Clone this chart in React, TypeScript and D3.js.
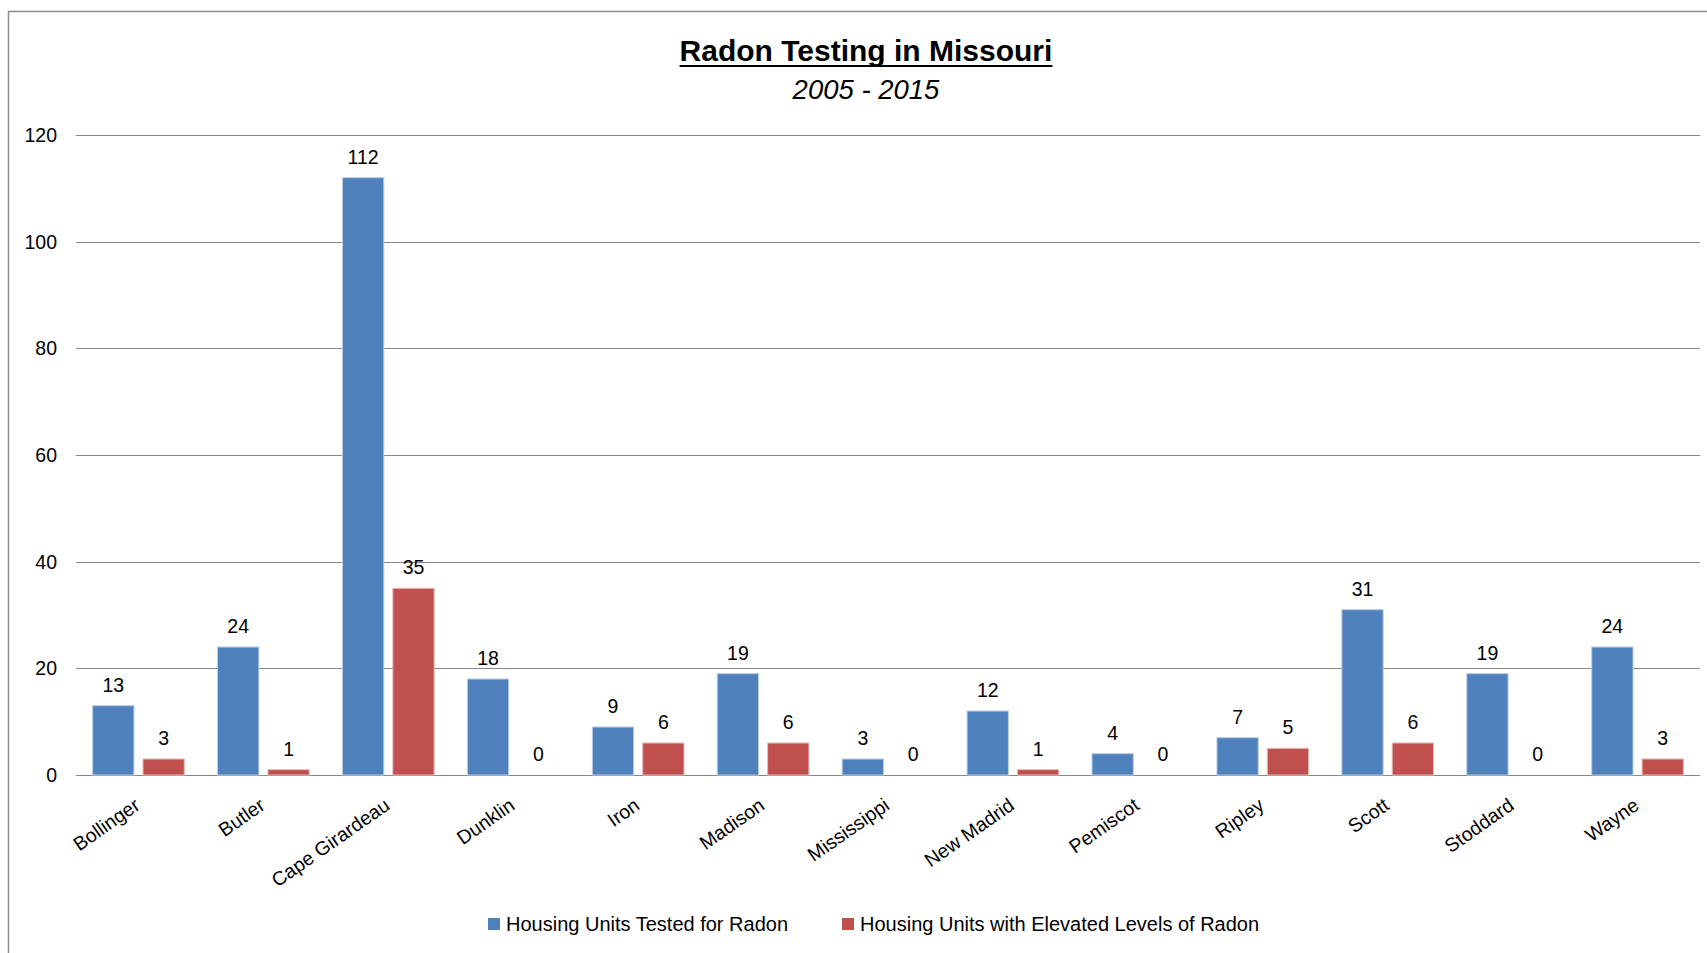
import React, { useEffect, useRef } from 'react';
import * as d3 from 'd3';

const counties = [
  'Bollinger',
  'Butler',
  'Cape Girardeau',
  'Dunklin',
  'Iron',
  'Madison',
  'Mississippi',
  'New Madrid',
  'Pemiscot',
  'Ripley',
  'Scott',
  'Stoddard',
  'Wayne',
];
const tested = [13, 24, 112, 18, 9, 19, 3, 12, 4, 7, 31, 19, 24];
const elevated = [3, 1, 35, 0, 6, 6, 0, 1, 0, 5, 6, 0, 3];
const seriesNames = ['Housing Units Tested for Radon', 'Housing Units with Elevated Levels of Radon'];
const seriesColors = ['#4F81BD', '#C0504D'];
const yTicks = [0, 20, 40, 60, 80, 100, 120];

const FONT = "'Liberation Sans', Arial, sans-serif";

const App: React.FC = () => {
  const svgRef = useRef<SVGSVGElement>(null);

  useEffect(() => {
    if (!svgRef.current) return;
    const svg = d3.select(svgRef.current);
    svg.selectAll('*').remove();

    const width = 1707;
    const height = 953;
    const margin = { top: 135, right: 7, bottom: 178, left: 76 };

    // frame (top + left edges only are visible)
    svg
      .append('path')
      .attr('d', `M8.5,${height} L8.5,11.5 L${width},11.5`)
      .attr('fill', 'none')
      .attr('stroke', '#8c8c8c')
      .attr('stroke-width', 1.5);

    const x0 = d3
      .scaleBand<string>()
      .domain(counties)
      .range([margin.left, width - margin.right]);

    const x1 = d3
      .scaleBand<number>()
      .domain([0, 1])
      .range([0, x0.bandwidth()])
      .paddingInner(0.18)
      .paddingOuter(0.33);

    const y = d3
      .scaleLinear()
      .domain([0, 120])
      .range([height - margin.bottom, margin.top]);

    // gridlines
    svg
      .append('g')
      .selectAll('line')
      .data(yTicks)
      .enter()
      .append('line')
      .attr('x1', margin.left)
      .attr('x2', width - margin.right)
      .attr('y1', (d) => Math.round(y(d)) + 0.5)
      .attr('y2', (d) => Math.round(y(d)) + 0.5)
      .attr('stroke', '#878787')
      .attr('stroke-width', 1.2);

    svg
      .append('g')
      .selectAll('text')
      .data(yTicks)
      .enter()
      .append('text')
      .attr('x', 57)
      .attr('y', (d) => y(d))
      .attr('dy', '0.36em')
      .attr('text-anchor', 'end')
      .attr('font-family', FONT)
      .attr('font-size', 19.5)
      .attr('fill', '#000')
      .text((d) => d);

    const rows = counties.map((c, i) => ({ county: c, values: [tested[i], elevated[i]] }));

    const groups = svg
      .append('g')
      .selectAll('g')
      .data(rows)
      .enter()
      .append('g')
      .attr('transform', (d) => `translate(${x0(d.county)},0)`);

    groups
      .selectAll('rect')
      .data((d) => d.values.map((v, s) => ({ v, s })))
      .enter()
      .append('rect')
      .attr('x', (d) => x1(d.s) || 0)
      .attr('y', (d) => y(d.v))
      .attr('width', x1.bandwidth())
      .attr('height', (d) => y(0) - y(d.v))
      .attr('fill', (d) => seriesColors[d.s])
      .attr('stroke', (d) => (d.s === 0 ? '#b9cde5' : '#e6b9b8'))
      .attr('stroke-width', (d) => (d.v > 0 ? 1 : 0));

    groups
      .selectAll('text')
      .data((d) => d.values.map((v, s) => ({ v, s })))
      .enter()
      .append('text')
      .attr('x', (d) => (x1(d.s) || 0) + x1.bandwidth() / 2)
      .attr('y', (d) => y(d.v) - 14)
      .attr('text-anchor', 'middle')
      .attr('font-family', FONT)
      .attr('font-size', 19.5)
      .attr('fill', '#000')
      .text((d) => d.v);

    // x axis labels
    svg
      .append('g')
      .selectAll('text')
      .data(counties)
      .enter()
      .append('text')
      .attr('transform', (d) => `translate(${(x0(d) || 0) + x0.bandwidth() / 2 - 5},${y(0) + 22}) rotate(-35)`)
      .attr('dy', '0.7em')
      .attr('text-anchor', 'end')
      .attr('font-family', FONT)
      .attr('font-size', 19.5)
      .attr('fill', '#000')
      .text((d) => d);

    // title
    const title = svg
      .append('text')
      .attr('x', 866)
      .attr('y', 61)
      .attr('text-anchor', 'middle')
      .attr('font-family', FONT)
      .attr('font-size', 30)
      .attr('font-weight', 'bold')
      .attr('fill', '#000')
      .text('Radon Testing in Missouri');
    const tb = (title.node() as SVGTextElement).getBBox();
    svg
      .append('line')
      .attr('x1', tb.x)
      .attr('x2', tb.x + tb.width)
      .attr('y1', 66)
      .attr('y2', 66)
      .attr('stroke', '#000')
      .attr('stroke-width', 2);

    svg
      .append('text')
      .attr('x', 866)
      .attr('y', 99)
      .attr('text-anchor', 'middle')
      .attr('font-family', FONT)
      .attr('font-size', 27.5)
      .attr('font-style', 'italic')
      .attr('fill', '#000')
      .text('2005 - 2015');

    // legend
    const legendX = [488, 842];
    const legend = svg
      .append('g')
      .selectAll('g')
      .data(seriesNames)
      .enter()
      .append('g')
      .attr('transform', (_d, i) => `translate(${legendX[i]},918)`);
    legend
      .append('rect')
      .attr('width', 12)
      .attr('height', 12)
      .attr('fill', (_d, i) => seriesColors[i]);
    legend
      .append('text')
      .attr('x', 18)
      .attr('y', 13)
      .attr('font-family', FONT)
      .attr('font-size', 20)
      .attr('fill', '#000')
      .text((d) => d);
  }, []);

  return (
    <svg
      ref={svgRef}
      width={1707}
      height={953}
      style={{ position: 'absolute', left: 0, top: 0, background: '#fff' }}
    ></svg>
  );
};

export default App;
